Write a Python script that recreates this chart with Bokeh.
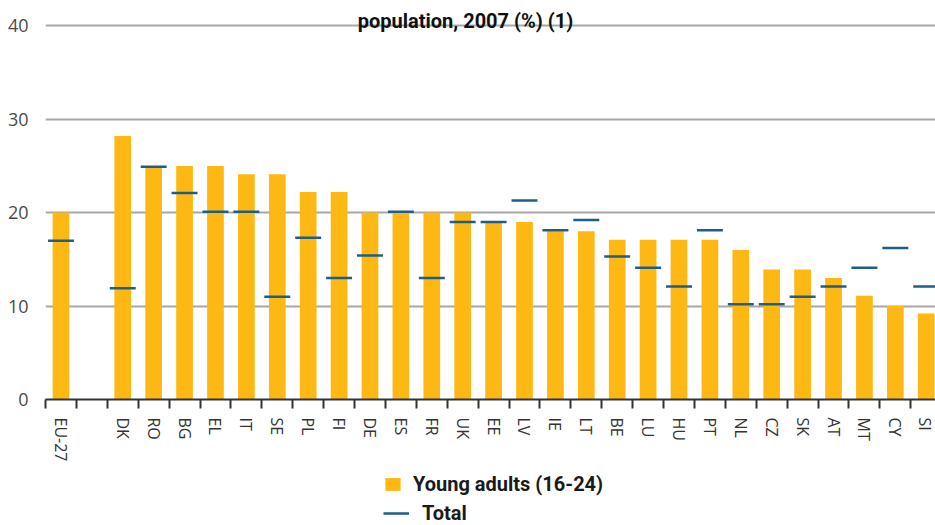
from bokeh.plotting import figure
from bokeh.layouts import column
from bokeh.models import (ColumnDataSource, Range1d, LinearAxis, FixedTicker,
                          Legend, LegendItem, Label)
from bokeh.embed import file_html
from bokeh.resources import INLINE

# ---- data ----
slots = ["EU-27", "", "DK", "RO", "BG", "EL", "IT", "SE", "PL", "FI", "DE", "ES",
         "FR", "UK", "EE", "LV", "IE", "LT", "BE", "LU", "HU", "PT", "NL", "CZ",
         "SK", "AT", "MT", "CY", "SI"]
young_adults = [20, 28.2, 25, 25, 25, 24.1, 24.1, 22.2, 22.2, 20, 20, 20, 20,
                19, 19, 18, 18, 17.1, 17.1, 17.1, 17.1, 16, 13.9, 13.9, 13, 11.1,
                10, 9.2]
total = [17, 11.9, 24.9, 22.1, 20.1, 20.1, 11, 17.3, 13, 15.4, 20.1, 13, 19,
         19, 21.3, 18.1, 19.2, 15.3, 14.1, 12.1, 18.1, 10.2, 10.2, 11, 12.1, 14.1,
         16.2, 12.1]
y_ticks = [0, 10, 20, 30, 40]
title_text = "population, 2007 (%) (1)"
series_names = ["Young adults (16-24)", "Total"]

bar_color = "#FDB813"
line_color = "#1D5F8A"

# category centres from slot positions
idx = [i for i, c in enumerate(slots) if c]
codes = [slots[i] for i in idx]
xc = [i + 0.5 for i in idx]
src = ColumnDataSource(dict(
    x=xc, code=codes, young=young_adults, total=total,
    x0=[v - 0.42 for v in xc], x1=[v + 0.42 for v in xc]))

p = figure(width=935, height=470, output_backend="svg", toolbar_location=None,
           x_range=Range1d(0, 28.8), y_range=Range1d(0, 42.7),
           x_axis_type=None, min_border_left=45, min_border_right=0,
           min_border_top=0, min_border_bottom=71)
p.outline_line_color = None
p.background_fill_color = "white"
p.border_fill_color = "white"

# y axis
p.yaxis.ticker = FixedTicker(ticks=y_ticks)
p.yaxis.axis_line_color = None
p.yaxis.major_tick_line_color = None
p.yaxis.minor_tick_line_color = None
p.yaxis.major_label_standoff = 11
p.yaxis.major_label_text_font = "Open Sans"
p.yaxis.major_label_text_font_size = "18px"
p.yaxis.major_label_text_color = "#4a4a4a"
p.ygrid.ticker = FixedTicker(ticks=y_ticks)
p.ygrid.grid_line_color = "#a8a8a8"
p.ygrid.grid_line_width = 2

# x axis: labels at centres, ticks at slot boundaries
xaxis = LinearAxis(ticker=FixedTicker(ticks=xc, minor_ticks=list(range(len(slots)))))
xaxis.major_label_overrides = {v: c for v, c in zip(xc, codes)}
xaxis.major_label_orientation = "vertical"
xaxis.major_tick_line_color = None
xaxis.major_tick_out = 0
xaxis.major_tick_in = 0
xaxis.minor_tick_out = 9
xaxis.minor_tick_in = 0
xaxis.minor_tick_line_color = "#333333"
xaxis.minor_tick_line_width = 2
xaxis.axis_line_color = "#333333"
xaxis.axis_line_width = 2
xaxis.major_label_standoff = 9
xaxis.major_label_text_font = "Open Sans"
xaxis.major_label_text_font_size = "16px"
xaxis.major_label_text_color = "#333333"
p.add_layout(xaxis, "below")

p.vbar(x="x", top="young", width=0.54, source=src,
       fill_color=bar_color, line_color=None)
p.segment(x0="x0", y0="total", x1="x1", y1="total", source=src,
          line_color=line_color, line_width=2.5)

p.add_layout(Label(x=420, y=379, x_units="screen", y_units="screen",
                   text=title_text, text_align="center",
                   text_baseline="alphabetic", text_font="Roboto",
                   text_font_style="bold", text_font_size="20px",
                   text_color="#111111"))

# ---- legend strip (key glyphs use the same data, kept out of view) ----
lg = figure(width=935, height=55, output_backend="svg", toolbar_location=None,
            x_range=Range1d(0, 1), y_range=Range1d(1000, 1001),
            x_axis_type=None, y_axis_type=None,
            min_border_left=0, min_border_right=0, min_border_top=0,
            min_border_bottom=0)
lg.outline_line_color = None
lg.xgrid.visible = False
lg.ygrid.visible = False
key_bar = lg.vbar(x="x", top="young", width=0.54, source=src,
                  fill_color=bar_color, line_color=None)
key_line = lg.segment(x0="x0", y0="total", x1="x1", y1="total", source=src,
                      line_color=line_color, line_width=2.5)

common = dict(padding=0, margin=0, border_line_color=None,
              background_fill_alpha=0, label_text_font="Roboto",
              label_text_font_style="bold", label_text_font_size="20px",
              label_text_color="#1a1a1a")
leg_a = Legend(items=[LegendItem(label=series_names[0], renderers=[key_bar])],
               location=(338, 29), glyph_width=19, glyph_height=16,
               label_standoff=11, **common)
leg_b = Legend(items=[LegendItem(label=series_names[1], renderers=[key_line])],
               location=(338, 0), glyph_width=26, glyph_height=16,
               label_standoff=13, **common)
lg.add_layout(leg_a)
lg.add_layout(leg_b)

layout = column(p, lg, spacing=0)
open("out.html", "w").write(file_html(layout, INLINE))
